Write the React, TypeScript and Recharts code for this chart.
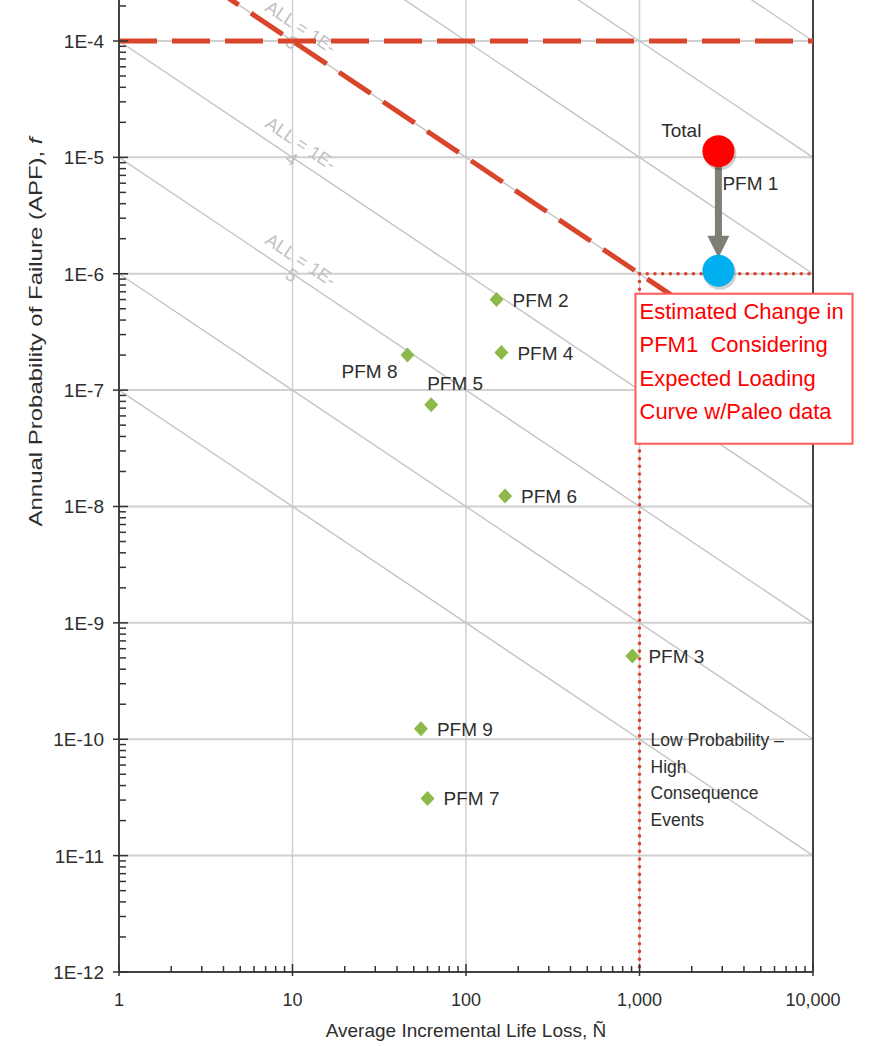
import React from 'react';
import {
  ScatterChart,
  Scatter,
  XAxis,
  YAxis,
  ReferenceLine,
  ReferenceDot,
  Label,
} from 'recharts';

// axis ticks
const X_MAJOR = [1, 10, 100, 1000, 10000];
const X_LABELS = ['1', '10', '100', '1,000', '10,000'];
const Y_MAJOR = [1e-12, 1e-11, 1e-10, 1e-9, 1e-8, 1e-7, 1e-6, 1e-5, 1e-4];
const Y_LABELS = ['1E-12', '1E-11', '1E-10', '1E-9', '1E-8', '1E-7', '1E-6', '1E-5', '1E-4'];
const Y_TOP = 2.25e-4;

// potential failure modes (diamonds)
const PFM_NAMES = ['PFM 2', 'PFM 4', 'PFM 8', 'PFM 5', 'PFM 6', 'PFM 3', 'PFM 9', 'PFM 7'];
const PFM_LIFE_LOSS = [150, 160, 46, 63, 168, 910, 55, 60];
const PFM_APF = [6.0e-7, 2.1e-7, 2.0e-7, 7.5e-8, 1.23e-8, 5.2e-10, 1.23e-10, 3.1e-11];

// total risk and estimated change of PFM 1
const TOTAL_LIFE_LOSS = [2850];
const TOTAL_APF = [1.13e-5];
const PALEO_APF = [1.06e-6];

// annualized life loss guide lines (f * N)
const ALL_VALUES = [1, 0.1, 0.01, 1e-3, 1e-4, 1e-5, 1e-6, 1e-7];
const ALL_LABELED = [1e-3, 1e-4, 1e-5];
const ALL_DIGITS = ['3', '4', '5'];

// guideline limits
const TOLERABLE_APF = 1e-4;
const LIMIT_ALL = 1e-3;
const LPHC_LIFE_LOSS = 1000;
const LPHC_APF = 1e-6;
const LPHC_NOTE_APF = 1e-10;

const BOX_LINES = ['Estimated Change in', 'PFM1  Considering', 'Expected Loading', 'Curve w/Paleo data'];
const LPHC_LINES = ['Low Probability \u2013', 'High', 'Consequence', 'Events'];

const FONT = '"Liberation Sans", Arial, sans-serif';
const TEXT = '#2e2e2e';
const RED = '#D9452B';
const GRID = '#d0d0d0';
const DIAG = '#c4c4c4';

const LABEL_PLACE: Record<string, string> = { 'PFM 8': 'leftBelow', 'PFM 5': 'above' };

const minors = (majors: number[]) => {
  const out: number[] = [];
  majors.forEach((m) => {
    for (let k = 2; k <= 9; k++) out.push(m * k);
  });
  return out;
};
const X_TICKS = X_MAJOR.concat(minors(X_MAJOR.slice(0, -1)));
const Y_MINORS = minors(Y_MAJOR).filter((v) => v <= Y_TOP);

const isMajor = (v: number) => Math.abs(Math.log10(v) - Math.round(Math.log10(v))) < 1e-6;

const pfmData = PFM_NAMES.map((name, i) => ({ name, n: PFM_LIFE_LOSS[i], f: PFM_APF[i] }));
const totalData = TOTAL_LIFE_LOSS.map((n, i) => ({ n, f: TOTAL_APF[i] }));
const paleoData = TOTAL_LIFE_LOSS.map((n, i) => ({ n, f: PALEO_APF[i] }));

function XTick(props: any) {
  const { x, y, payload } = props;
  const v = payload.value;
  const major = isMajor(v);
  const idx = X_MAJOR.findIndex((m) => Math.abs(m - v) < 1e-9 * m);
  return (
    <g>
      <line x1={x} x2={x} y1={y + (major ? 4 : 0)} y2={y - (major ? 8 : 6)} stroke="#333" strokeWidth={1.5} />
      {major && idx >= 0 && (
        <text x={x} y={y + 34} textAnchor="middle" fontSize={18} fill={TEXT} fontFamily={FONT}>
          {X_LABELS[idx]}
        </text>
      )}
    </g>
  );
}

// minor y ticks are drawn beside each major label, using the pixel span of one decade
function YTick(props: any) {
  const { x, y, payload, index, visibleTicksCount } = props;
  const idx = Y_MAJOR.findIndex((m) => Math.abs(m - payload.value) < 1e-6 * m);
  const decadePx = props.decadePx || 116.4;
  const minorYs: number[] = [];
  for (let k = 2; k <= 9; k++) {
    const yy = y - Math.log10(k) * decadePx;
    if (yy >= 0) minorYs.push(yy);
  }
  return (
    <g>
      <line x1={x - 6} x2={x + 9} y1={y} y2={y} stroke="#333" strokeWidth={1.5} />
      {minorYs.map((yy) => (
        <line key={yy} x1={x} x2={x + 7} y1={yy} y2={yy} stroke="#333" strokeWidth={1.5} />
      ))}
      {idx >= 0 && (
        <text x={x - 15} y={y + 7} textAnchor="end" fontSize={19} fill={TEXT} fontFamily={FONT}>
          {Y_LABELS[idx]}
        </text>
      )}
    </g>
  );
}

function PfmShape(props: any) {
  const { cx, cy, payload } = props;
  const place = LABEL_PLACE[payload.name] || 'right';
  let tx = cx + 16;
  let ty = cy + 7;
  let anchor = 'start';
  if (place === 'leftBelow') {
    tx = cx - 10;
    ty = cy + 23;
    anchor = 'end';
  }
  if (place === 'above') {
    tx = cx - 4;
    ty = cy - 15;
  }
  return (
    <g>
      <polygon
        points={`${cx},${cy - 7.5} ${cx + 7},${cy} ${cx},${cy + 7.5} ${cx - 7},${cy}`}
        fill="#8DB84A"
      />
      <text x={tx} y={ty} textAnchor={anchor} fontSize={19} fill={TEXT} fontFamily={FONT}>
        {payload.name}
      </text>
    </g>
  );
}

function CircleShape(color: string, withLabels: boolean) {
  return (props: any) => {
    const { cx, cy } = props;
    return (
      <g>
        <circle cx={cx + 1.5} cy={cy + 2.5} r={16.5} fill="#000" opacity={0.18} />
        <circle cx={cx} cy={cy} r={16} fill={color} />
        {withLabels && (
          <>
            <text x={cx - 17} y={cy - 14} textAnchor="end" fontSize={19} fill={TEXT} fontFamily={FONT}>
              Total
            </text>
            <text x={cx + 4} y={cy + 39} fontSize={19} fill={TEXT} fontFamily={FONT}>
              PFM 1
            </text>
          </>
        )}
      </g>
    );
  };
}

function ArrowShape(props: any) {
  const { x1, y1, y2 } = props;
  const top = y1 + 16;
  const tip = y2 - 13;
  const headH = 22;
  return (
    <g>
      <rect x={x1 - 3.5} y={top} width={7} height={tip - headH - top + 1} fill="#7F7F78" />
      <polygon points={`${x1 - 11},${tip - headH} ${x1 + 11},${tip - headH} ${x1},${tip}`} fill="#7F7F78" />
    </g>
  );
}

function BoxShape(props: any) {
  const { cx, cy } = props;
  return (
    <g>
      <rect x={cx - 4} y={cy + 20} width={217} height={150} fill="#fff" stroke="#FF5A5A" strokeWidth={2} />
      {BOX_LINES.map((t, i) => (
        <text
          key={t}
          x={cx}
          y={cy + 45 + i * 33.5}
          fontSize={22}
          fill="#FF0000"
          fontFamily={FONT}
          style={{ whiteSpace: 'pre' }}
        >
          {t}
        </text>
      ))}
    </g>
  );
}

function NoteShape(props: any) {
  const { cx, cy } = props;
  return (
    <g>
      {LPHC_LINES.map((t, i) => (
        <text key={t} x={cx + 11} y={cy + 7 + i * 26.5} fontSize={17.5} fill={TEXT} fontFamily={FONT}>
          {t}
        </text>
      ))}
    </g>
  );
}

function AllLabelShape(digit: string) {
  return (props: any) => {
    const { cx, cy } = props;
    return (
      <g transform={`translate(${cx},${cy}) rotate(33.8)`}>
        <text x={-1} y={-10} textAnchor="middle" fontSize={18} fill="#c0c0c0" fontFamily={FONT}>
          ALL = 1E-
        </text>
        <text x={0} y={8} textAnchor="middle" fontSize={18} fill="#c0c0c0" fontFamily={FONT}>
          {digit}
        </text>
      </g>
    );
  };
}

const CHART_H = 1046;
const X_AXIS_H = 74;
const DECADE_PX = (CHART_H - X_AXIS_H) / Math.log10(Y_TOP / Y_MAJOR[0]);

export default function App() {
  return (
    <div style={{ position: 'absolute', top: 0, left: 0, width: 874, height: CHART_H, background: '#fff' }}>
      <ScatterChart width={874} height={CHART_H} margin={{ top: 0, right: 61, bottom: 0, left: 0 }}>
        <XAxis
          type="number"
          dataKey="n"
          scale="log"
          domain={[1, 10000]}
          allowDataOverflow
          ticks={X_TICKS}
          interval={0}
          tickSize={0}
          tickMargin={0}
          tickLine={false}
          tick={<XTick />}
          axisLine={{ stroke: '#444', strokeWidth: 2 }}
          height={X_AXIS_H}
        >
          <Label
            content={(p: any) => {
              const vb = p.viewBox || { x: 119, y: 972, width: 694 };
              return (
                <text x={vb.x + vb.width / 2} y={vb.y + 65} textAnchor="middle" fontSize={19} fill={TEXT} fontFamily={FONT}>
                  Average Incremental Life Loss, Ñ
                </text>
              );
            }}
          />
        </XAxis>
        <YAxis
          type="number"
          dataKey="f"
          scale="log"
          domain={[1e-12, Y_TOP]}
          allowDataOverflow
          ticks={Y_MAJOR}
          interval={0}
          tickSize={0}
          tickMargin={0}
          tickLine={false}
          tick={<YTick decadePx={DECADE_PX} />}
          axisLine={{ stroke: '#444', strokeWidth: 2 }}
          width={119}
        >
          <Label
            content={(p: any) => {
              const vb = p.viewBox || { x: 0, y: 0 };
              return (
                <text
                  transform={`translate(${vb.x + 42},${vb.y + 332}) rotate(-90)`}
                  textAnchor="middle"
                  fontSize={18}
                  fill={TEXT}
                  fontFamily={FONT}
                  textLength={389}
                  lengthAdjust="spacingAndGlyphs"
                >
                  Annual Probability of Failure (APF), <tspan fontStyle="italic">f</tspan>
                </text>
              );
            }}
          />
        </YAxis>

        {/* major grid */}
        {X_MAJOR.slice(1, -1).map((v) => (
          <ReferenceLine key={`gx${v}`} x={v} stroke={GRID} strokeWidth={1.5} zIndex={10} />
        ))}
        {Y_MAJOR.slice(1).map((v) => (
          <ReferenceLine key={`gy${v}`} y={v} stroke={GRID} strokeWidth={2} zIndex={10} />
        ))}

        {/* annualized life loss diagonals */}
        {ALL_VALUES.map((v) => {
          const n0 = Math.max(1, v / 1e-3);
          const n1 = Math.min(10000, v / 1e-12);
          return (
            <ReferenceLine
              key={`all${v}`}
              segment={[
                { x: n0, y: v / n0 },
                { x: n1, y: v / n1 },
              ]}
              stroke={DIAG}
              strokeWidth={1.4}
              ifOverflow="hidden"
              zIndex={20}
            />
          );
        })}
        {ALL_LABELED.map((v, i) => (
          <ReferenceDot key={`alll${v}`} x={10} y={v / 10} r={0} shape={AllLabelShape(ALL_DIGITS[i])} zIndex={30} />
        ))}

        {/* right frame */}
        <ReferenceLine x={10000} stroke="#444" strokeWidth={2} zIndex={40} />

        {/* guidelines */}
        <ReferenceLine
          segment={[
            { x: LPHC_LIFE_LOSS, y: LPHC_APF },
            { x: LPHC_LIFE_LOSS, y: 1e-12 },
          ]}
          stroke={RED}
          strokeWidth={3.5}
          strokeDasharray="0.1 7.6"
          strokeLinecap="round"
          zIndex={50}
        />
        <ReferenceLine
          segment={[
            { x: LPHC_LIFE_LOSS, y: LPHC_APF },
            { x: 10000, y: LPHC_APF },
          ]}
          stroke={RED}
          strokeWidth={3.5}
          strokeDasharray="0.1 7.6"
          strokeLinecap="round"
          zIndex={50}
        />
        <ReferenceLine y={TOLERABLE_APF} stroke={RED} strokeWidth={5} strokeDasharray="38 15" zIndex={55} />
        <ReferenceLine
          segment={[
            { x: 1, y: LIMIT_ALL },
            { x: 10000, y: LIMIT_ALL / 10000 },
          ]}
          stroke={RED}
          strokeWidth={5}
          strokeDasharray="38 15"
          ifOverflow="hidden"
          zIndex={55}
        />

        <Scatter data={pfmData} shape={<PfmShape />} isAnimationActive={false} zIndex={600} />

        <ReferenceDot x={LPHC_LIFE_LOSS} y={LPHC_APF} r={0} shape={BoxShape} zIndex={700} />
        <ReferenceDot x={LPHC_LIFE_LOSS} y={LPHC_NOTE_APF} r={0} shape={NoteShape} zIndex={700} />

        <ReferenceLine
          segment={[
            { x: TOTAL_LIFE_LOSS[0], y: TOTAL_APF[0] },
            { x: TOTAL_LIFE_LOSS[0], y: PALEO_APF[0] },
          ]}
          shape={ArrowShape}
          zIndex={800}
        />
        <Scatter data={totalData} shape={CircleShape('#FF0000', true)} isAnimationActive={false} zIndex={900} />
        <Scatter data={paleoData} shape={CircleShape('#00B0F0', false)} isAnimationActive={false} zIndex={900} />
      </ScatterChart>
    </div>
  );
}
